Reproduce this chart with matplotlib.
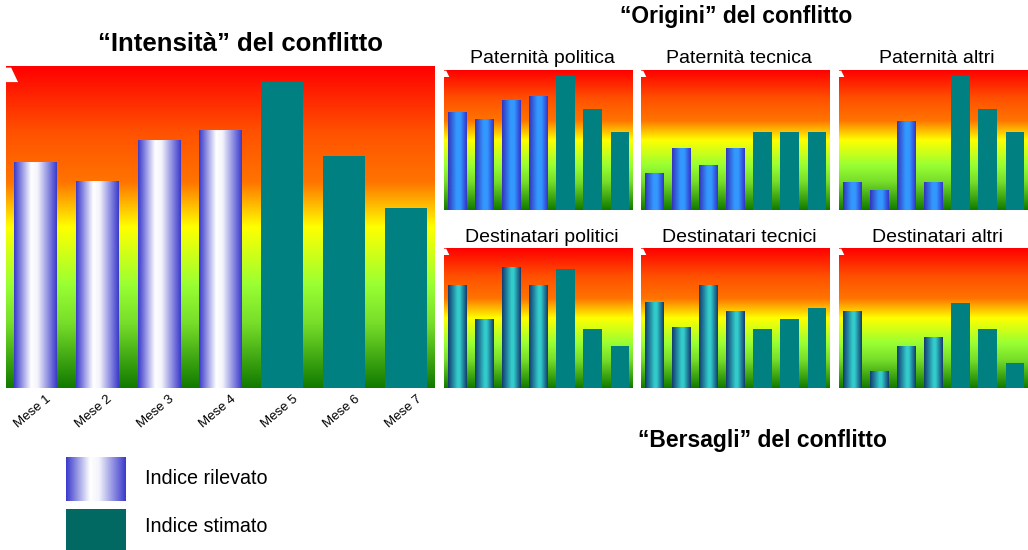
import numpy as np
import matplotlib
matplotlib.use("Agg")
import matplotlib.pyplot as plt
from matplotlib.colors import LinearSegmentedColormap
from matplotlib.transforms import ScaledTranslation
from matplotlib.patches import Polygon

plt.rcParams['font.family'] = ['Liberation Sans', 'DejaVu Sans']

# ---------------- data ----------------
months = ["Mese 1", "Mese 2", "Mese 3", "Mese 4", "Mese 5", "Mese 6", "Mese 7"]
intensita = [70, 64, 77, 80, 95, 72, 56]
n_rilevato = 4  # first four months: measured, rest estimated

pat_politica = [70, 65, 78, 81, 96, 72, 56]
pat_tecnica = [26, 44, 32, 44, 56, 56, 56]
pat_altri = [20, 14, 63, 20, 96, 72, 56]
dest_politici = [73, 49, 86, 73, 85, 42, 30]
dest_tecnici = [61, 43, 73, 55, 42, 49, 57]
dest_altri = [55, 12, 30, 36, 61, 42, 18]

panel_titles_top = ["Paternità politica", "Paternità tecnica", "Paternità altri"]
panel_titles_bot = ["Destinatari politici", "Destinatari tecnici", "Destinatari altri"]
legend_labels = ["Indice rilevato", "Indice stimato"]

# ---------------- styles ----------------
W, H = 1028, 550
fig = plt.figure(figsize=(W / 100, H / 100), dpi=100)

bg_cmap = LinearSegmentedColormap.from_list("bg", [
    (0.0, "#FF0000"), (0.2, "#FF5000"), (0.36, "#FF7400"),
    (0.5, "#FFFF00"), (0.68, "#99FF33"), (0.8, "#77DD2A"), (1.0, "#117A00")])
white_blue = LinearSegmentedColormap.from_list("wb", [
    (0.0, "#3A3ACC"), (0.4, "#FFFFFF"), (0.55, "#F4F4FC"), (1.0, "#3A3ACC")])
blue_bar = LinearSegmentedColormap.from_list("bb", [
    (0.0, "#3333BB"), (0.45, "#3399FF"), (0.65, "#3399FF"), (1.0, "#3333CC")])
cyan_bar = LinearSegmentedColormap.from_list("cb", [
    (0.0, "#123A6E"), (0.5, "#33CCCC"), (0.62, "#33CCCC"), (1.0, "#123A6E")])
TEAL = "#008080"
LEG_TEAL = "#026862"

vgrad = np.linspace(0, 1, 256).reshape(-1, 1)  # top->bottom
hgrad = np.linspace(0, 1, 128).reshape(1, -1)


def px_axes(x0, y0, x1, y1):
    return fig.add_axes([x0 / W, 1 - y1 / H, (x1 - x0) / W, (y1 - y0) / H])


def draw_panel(ax, values, grad_cmap, width, xpad):
    ax.imshow(vgrad, cmap=bg_cmap, extent=[0, 1, 0, 1], transform=ax.transAxes,
              aspect="auto", zorder=0, interpolation="bilinear")
    x = np.arange(len(values))
    bars = ax.bar(x, values, width=width, color=TEAL, zorder=2, linewidth=0)
    for i, b in enumerate(bars):
        if i < n_rilevato:
            b.set_alpha(0)
            ax.imshow(hgrad, cmap=grad_cmap, aspect="auto", zorder=3,
                      extent=[b.get_x(), b.get_x() + b.get_width(), 0, b.get_height()],
                      interpolation="bilinear")
    ax.set_xlim(-xpad, len(values) - 1 + xpad)
    ax.set_ylim(0, 100)
    for s in ax.spines.values():
        s.set_visible(False)
    ax.tick_params(left=False, bottom=False, labelleft=False, labelbottom=False)
    # small white notch at the top-left corner
    tri = Polygon([(0, 0.995), (0.012, 0.995), (0.028, 0.95), (0, 0.95)], closed=True,
                  transform=ax.transAxes, facecolor="white", edgecolor="none", zorder=5)
    ax.add_patch(tri)
    return x


# ---------------- main chart ----------------
ax = px_axes(6, 66, 435, 388)
x = draw_panel(ax, intensita, white_blue, 0.68, 0.469)
ax.tick_params(labelbottom=True, pad=0)
ax.set_xticks(x)
ax.set_xticklabels(months, rotation=40, ha="right", va="center",
                   rotation_mode="anchor", fontsize=9.5, fontweight="medium")
off = ScaledTranslation(14 / 100, -5 / 100, fig.dpi_scale_trans)
for lab in ax.get_xticklabels():
    lab.set_transform(lab.get_transform() + off)

fig.text(241 / W, 1 - 44 / H, "“Intensità” del conflitto", ha="center", va="center",
         fontsize=18.5, fontweight="bold")

# ---------------- small panels ----------------
cols = [444, 641, 839]
top_vals = [pat_politica, pat_tecnica, pat_altri]
bot_vals = [dest_politici, dest_tecnici, dest_altri]
for c, vals, t in zip(cols, top_vals, panel_titles_top):
    a = px_axes(c, 70, c + 189, 210)
    draw_panel(a, vals, blue_bar, 0.68, 0.49)
    fig.text((c + 98) / W, 1 - 58.5 / H, t, ha="center", va="center", fontsize=14)
for c, vals, t in zip(cols, bot_vals, panel_titles_bot):
    a = px_axes(c, 248, c + 189, 388)
    draw_panel(a, vals, cyan_bar, 0.68, 0.49)
    fig.text((c + 98) / W, 1 - 237.5 / H, t, ha="center", va="center", fontsize=14)

fig.text(736 / W, 1 - 16.5 / H, "“Origini” del conflitto", ha="center", va="center",
         fontsize=16.5, fontweight="bold")
fig.text(762 / W, 1 - 440.5 / H, "“Bersagli” del conflitto", ha="center", va="center",
         fontsize=16.5, fontweight="bold")

# ---------------- legend ----------------
la = px_axes(66, 457, 126, 501)
la.imshow(hgrad, cmap=white_blue, aspect="auto", extent=[0, 1, 0, 1], interpolation="bilinear")
la.set_axis_off()
lb = px_axes(66, 509, 126, 550)
lb.add_patch(plt.Rectangle((0, 0), 1, 1, transform=lb.transAxes, facecolor=LEG_TEAL,
                           edgecolor="none"))
lb.set_axis_off()
fig.text(145 / W, 1 - 479 / H, legend_labels[0], ha="left", va="center", fontsize=14.2)
fig.text(145 / W, 1 - 526 / H, legend_labels[1], ha="left", va="center", fontsize=14.2)

fig.savefig("out.png", dpi=100, facecolor="white")
